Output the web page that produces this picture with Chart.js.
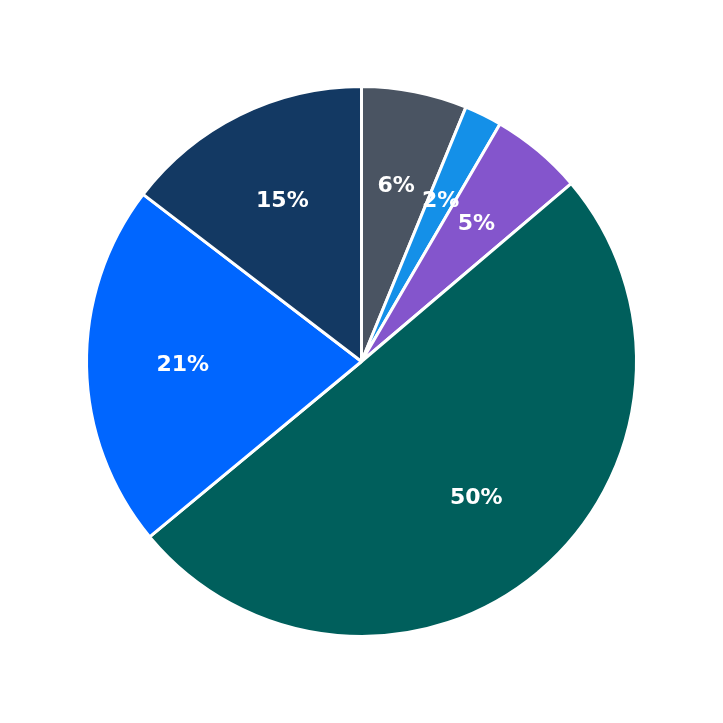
<!DOCTYPE html>
<html>
<head>
<script src="https://cdn.jsdelivr.net/npm/chart.js@4"></script>
<style>html,body{margin:0;background:#fff}#wrap{width:723px;height:723px}</style>
</head>
<body>
<div id="wrap"><canvas id="pieChart"></canvas></div>
<script>
const labels = ['A', 'B', 'C', 'D', 'E', 'F'];
const values = [6.2, 2.2, 5.4, 50.2, 21.4, 14.6];
const colors = ['#4a5462', '#1490e8', '#8455cc', '#005f5c', '#0066ff', '#133963'];

const pctLabels = {
    id: 'pctLabels',
    afterDatasetsDraw(chart) {
        const ctx = chart.ctx;
        const total = values.reduce((a, b) => a + b, 0);
        const meta = chart.getDatasetMeta(0);
        ctx.save();
        ctx.fillStyle = '#fff';
        ctx.font = 'bold 22px "DejaVu Sans"';
        ctx.textAlign = 'center';
        ctx.textBaseline = 'middle';
        meta.data.forEach((arc, i) => {
            const mid = (arc.startAngle + arc.endAngle) / 2;
            const r = arc.outerRadius * 0.65;
            ctx.fillText(Math.round(values[i] / total * 100) + '%',
                arc.x + Math.cos(mid) * r, arc.y + Math.sin(mid) * r);
        });
        ctx.restore();
    }
};

new Chart(document.getElementById('pieChart'), {
    type: 'pie',
    data: {
        labels: labels,
        datasets: [{
            data: values,
            backgroundColor: colors,
            borderColor: '#fff',
            borderWidth: 3,
        }]
    },
    options: {
        responsive: true,
        maintainAspectRatio: false,
        animation: false,
        layout: { padding: 85 },
        plugins: { legend: { display: false }, tooltip: { enabled: false } }
    },
    plugins: [pctLabels]
});
</script>
</body>
</html>
